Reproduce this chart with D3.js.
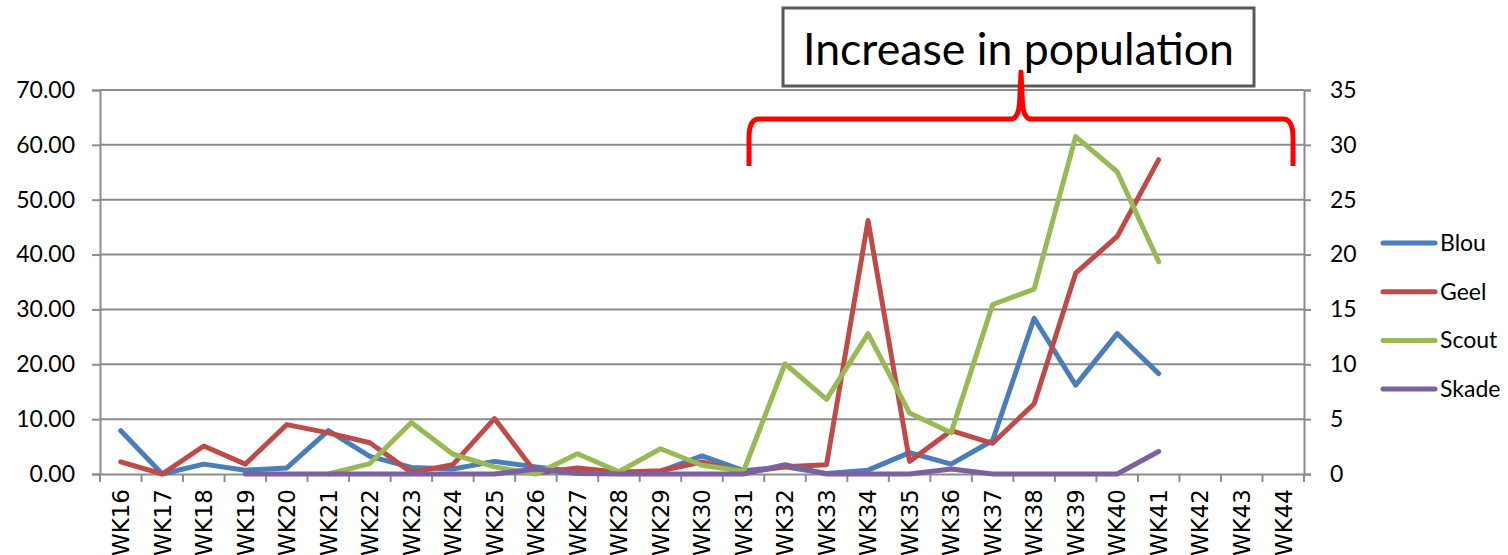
<!DOCTYPE html>
<html>
<head>
<meta charset="utf-8">
<script src="https://cdn.jsdelivr.net/npm/d3@7/dist/d3.min.js"></script>
<style>
  html, body { margin: 0; padding: 0; background: #ffffff; }
  svg { display: block; }
</style>
</head>
<body>
<svg id="chart" width="1508" height="555"></svg>
<script>
// Weekly counts per trap colour (WK16 .. WK44)
const weeks = ["WK16","WK17","WK18","WK19","WK20","WK21","WK22","WK23","WK24","WK25",
  "WK26","WK27","WK28","WK29","WK30","WK31","WK32","WK33","WK34","WK35",
  "WK36","WK37","WK38","WK39","WK40","WK41","WK42","WK43","WK44"];

const blou  = [7.9, 0, 1.8, 0.7, 1.1, 7.9, 3.2, 1.2, 0.9, 2.3,
  1.3, 0.4, 0.3, 0.5, 3.3, 0.6, 1.3, 0.1, 0.7, 3.9,
  1.8, 6.1, 28.4, 16.2, 25.6, 18.3, null, null, null];
const geel  = [2.2, 0, 5.1, 1.8, 9.0, 7.5, 5.7, 0.3, 1.7, 10.1,
  0.2, 1.1, 0.3, 0.6, 2.2, 0.3, 1.3, 1.7, 46.2, 2.3,
  7.9, 5.6, 12.8, 36.6, 43.3, 57.3, null, null, null];
const scout = [null, null, null, null, null, 0, 1.9, 9.4, 3.6, 1.3,
  0, 3.7, 0.4, 4.6, 1.6, 0.5, 20.1, 13.6, 25.6, 11.1,
  7.5, 30.9, 33.7, 61.5, 55.1, 38.7, null, null, null];
const skade = [null, null, null, 0, 0, 0, 0, 0, 0, 0,
  0.9, 0.1, 0, 0, 0, 0, 1.7, 0, 0, 0,
  0.9, 0, 0, 0, 0, 4.1, null, null, null];

const seriesNames = ["Blou", "Geel", "Scout", "Skade"];
const seriesColors = ["#4a7ebb", "#be4b48", "#98b954", "#7d60a0"];
const leftTicks = [0, 10, 20, 30, 40, 50, 60, 70];
const rightTicks = [0, 5, 10, 15, 20, 25, 30, 35];
const annotation = "Increase in population";

const series = [blou, geel, scout, skade];

const svg = d3.select("#chart");
const gridColor = "#8c8c8c";
const labelFont = "Lato, 'Open Sans', sans-serif";

const plotLeft = 100, plotRight = 1304, plotTop = 90, plotBottom = 474;

const x = d3.scaleBand().domain(weeks).range([plotLeft, plotRight]);
const yL = d3.scaleLinear().domain([0, 70]).range([plotBottom, plotTop]);
const yR = d3.scaleLinear().domain([0, 35]).range([plotBottom, plotTop]);

svg.append("rect").attr("width", 1508).attr("height", 555).attr("fill", "#fff");

// horizontal gridlines
svg.append("g").selectAll("line")
  .data(leftTicks.filter(d => d > 0))
  .join("line")
  .attr("x1", plotLeft).attr("x2", plotRight)
  .attr("y1", d => yL(d)).attr("y2", d => yL(d))
  .attr("stroke", gridColor).attr("stroke-width", 2);

// left axis
const gL = svg.append("g").attr("transform", `translate(${plotLeft},0)`)
  .call(d3.axisLeft(yL).tickValues(leftTicks).tickFormat(d3.format(".2f"))
    .tickSize(8).tickPadding(17));
// right axis
const gR = svg.append("g").attr("transform", `translate(${plotRight},0)`)
  .call(d3.axisRight(yR).tickValues(rightTicks).tickFormat(d3.format("d"))
    .tickSize(7).tickPadding(19));
[gL, gR].forEach(g => {
  g.select(".domain").attr("stroke", gridColor).attr("stroke-width", 2);
  g.selectAll(".tick line").attr("stroke", gridColor).attr("stroke-width", 2);
  g.selectAll(".tick text").attr("font-family", labelFont).attr("font-size", 23).attr("fill", "#000");
});

// bottom axis: labels at category centres, ticks at category boundaries
const gX = svg.append("g").attr("transform", `translate(0,${plotBottom})`)
  .call(d3.axisBottom(x).tickSize(0).tickPadding(0));
gX.select(".domain").attr("stroke", gridColor).attr("stroke-width", 2);
gX.selectAll(".tick text")
  .attr("font-family", "'DejaVu Sans', Verdana, sans-serif")
  .attr("font-size", 23)
  .attr("fill", "#000")
  .attr("text-anchor", "end")
  .attr("transform", "rotate(-90)")
  .attr("x", -15).attr("y", 0).attr("dy", "0.36em");
gX.append("g").selectAll("line")
  .data(weeks.map(w => x(w)).concat([plotRight]))
  .join("line")
  .attr("x1", d => d).attr("x2", d => d)
  .attr("y1", 0).attr("y2", 8)
  .attr("stroke", gridColor).attr("stroke-width", 2);

// series lines
const line = d3.line()
  .defined(d => d.v !== null)
  .x(d => x(d.w) + x.bandwidth() / 2)
  .y(d => yL(d.v));

series.forEach((vals, i) => {
  svg.append("path")
    .datum(weeks.map((w, j) => ({ w, v: vals[j] })))
    .attr("d", line)
    .attr("fill", "none")
    .attr("stroke", seriesColors[i])
    .attr("stroke-width", 5)
    .attr("stroke-linejoin", "round")
    .attr("stroke-linecap", "round");
});

// legend
const lg = svg.append("g");
seriesNames.forEach((name, i) => {
  const ly = 243 + i * 48.7;
  lg.append("line")
    .attr("x1", 1383).attr("x2", 1435).attr("y1", ly).attr("y2", ly)
    .attr("stroke", seriesColors[i]).attr("stroke-width", 5).attr("stroke-linecap", "round");
  lg.append("text")
    .attr("x", 1440).attr("y", ly).attr("dy", "0.35em")
    .attr("font-family", labelFont).attr("font-size", 23).attr("fill", "#000")
    .text(name);
});

// annotation box
svg.append("rect")
  .attr("x", 783).attr("y", 8).attr("width", 471).attr("height", 78)
  .attr("fill", "#fff").attr("stroke", "#595959").attr("stroke-width", 3);
svg.append("text")
  .attr("x", 1018.5).attr("y", 65)
  .attr("text-anchor", "middle")
  .attr("font-family", labelFont).attr("font-size", 45).attr("fill", "#000")
  .attr("textLength", 431).attr("lengthAdjust", "spacingAndGlyphs")
  .text(annotation);

// curly brace spanning the rising weeks
svg.append("path")
  .attr("d", "M749,166 L749,138 Q749,119 759,119 L1011,119 Q1018,119 1019.5,104 L1021,72 L1022.5,104 Q1024,119 1031,119 L1283,119 Q1293,119 1293,138 L1293,166")
  .attr("fill", "none").attr("stroke", "#ff0000").attr("stroke-width", 5)
  .attr("stroke-linejoin", "round");
</script>
</body>
</html>
